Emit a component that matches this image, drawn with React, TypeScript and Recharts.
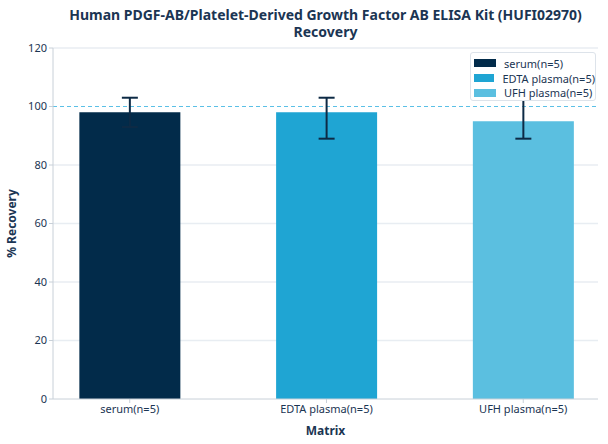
import { BarChart, Bar, Cell, XAxis, YAxis, CartesianGrid, ErrorBar, ReferenceLine } from 'recharts';

const categories = ['serum(n=5)', 'EDTA plasma(n=5)', 'UFH plasma(n=5)'];
const recovery = [98, 98, 95];
// [below, above] the bar top
const errorLow = [5, 9, 6];
const errorHigh = [5, 5, 8];
const yTicks = [0, 20, 40, 60, 80, 100, 120];

const COLORS = [
  '#022b4a', // serum
  '#1fa5d3', // EDTA
  '#5bbfe0', // UFH
];

const TEXT = '#1b3553';

const data = categories.map((name, i) => ({
  x: i,
  name,
  value: recovery[i],
  err: [errorLow[i], errorHigh[i]],
}));

function LegendBox() {
  return (
    <div
      style={{
        position: 'absolute',
        zIndex: 10,
        left: 470,
        top: 52,
        width: 126,
        height: 49,
        background: 'white',
        border: '1px solid #dde3ea',
        borderRadius: 3,
        boxSizing: 'border-box',
        padding: '3px 0 0 3px',
      }}
    >
      {categories.map((name, i) => (
        <div key={name} style={{ display: 'flex', alignItems: 'center', height: 14.7 }}>
          <span style={{ width: 22, height: 8, background: COLORS[i], marginRight: 8 }} />
          <span style={{ fontSize: 11, color: TEXT, whiteSpace: 'nowrap' }}>{name}</span>
        </div>
      ))}
    </div>
  );
}

export default function App() {
  return (
    <div
      style={{
        position: 'absolute',
        left: 0,
        top: 0,
        width: 608,
        height: 444,
        background: 'white',
        fontFamily: '"Noto Sans", sans-serif',
      }}
    >
      <div
        style={{
          position: 'absolute',
          left: 53,
          width: 545,
          top: 6,
          textAlign: 'center',
          fontSize: 14,
          fontWeight: 700,
          lineHeight: '17px',
          color: TEXT,
        }}
      >
        Human PDGF-AB/Platelet-Derived Growth Factor AB ELISA Kit (HUFI02970)
        <br />
        Recovery
      </div>
      <BarChart width={608} height={444} data={data} margin={{ top: 48, right: 10, bottom: 0, left: 8 }}>
        <CartesianGrid vertical={false} stroke="#e8edf2" strokeWidth={1.5} horizontalValues={[20, 40, 60, 80, 120]} />
        <XAxis
          dataKey="x"
          type="number"
          domain={[-0.39, 2.38]}
          ticks={[0, 1, 2]}
          tickFormatter={(v) => categories[v] ?? ''}
          stroke="#c8d0d8"
          tick={{ fill: TEXT, fontSize: 11 }}
          tickSize={4}
          height={45}
          allowDataOverflow
          label={{ value: 'Matrix', position: 'insideBottom', offset: 9, fill: TEXT, fontSize: 12, fontWeight: 700 }}
        />
        <YAxis
          domain={[0, 120]}
          ticks={yTicks}
          width={45}
          stroke="#c8d0d8"
          tick={{ fill: TEXT, fontSize: 11 }}
          tickSize={4}
          label={{
            value: '% Recovery',
            angle: -90,
            position: 'insideLeft',
            offset: 4,
            style: { textAnchor: 'middle', fill: TEXT, fontSize: 12, fontWeight: 700 },
          }}
        />
        <ReferenceLine y={100} stroke="#5bc0e6" strokeDasharray="4 3" strokeWidth={1} />
        <Bar dataKey="value" barSize={101} isAnimationActive={false}>
          {data.map((_, index) => (
            <Cell key={`cell-${index}`} fill={COLORS[index]} />
          ))}
          <ErrorBar dataKey="err" direction="y" width={8} stroke="#0d2a45" strokeWidth={2} />
        </Bar>
      </BarChart>
      <LegendBox />
    </div>
  );
}
